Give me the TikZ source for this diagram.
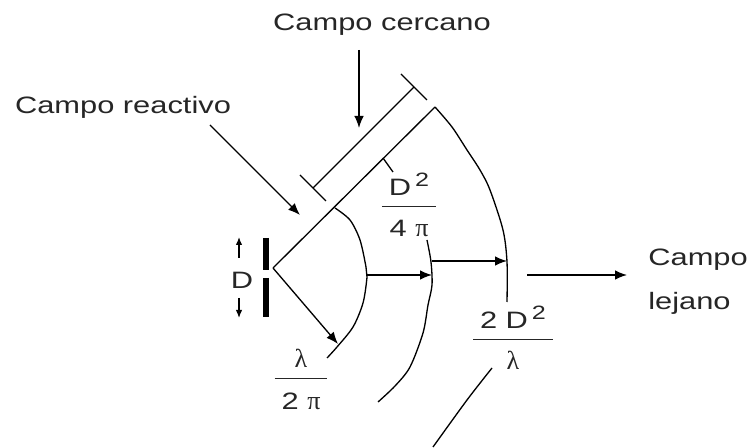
\documentclass[tikz,border=0pt]{standalone}
\usepackage{fontspec}
\setmainfont{Liberation Sans}[FakeStretch=1.3]
\newfontfamily\greek{Liberation Serif}[Scale=1.1]
\usetikzlibrary{arrows.meta}
\setlength{\arrayrulewidth}{0.8pt}
\newcommand{\sqr}{\,\raisebox{0.75ex}{\fontsize{11}{11}\selectfont 2}}
\newcommand{\ratio}[2]{\begin{tabular}{@{\hspace{4pt}}c@{\hspace{4pt}}}#1\\[1pt]\hline\rule{0pt}{17pt}#2\end{tabular}}

\begin{document}
\begin{tikzpicture}[
  x=0.02cm, y=-0.02cm,
  ln/.style={line width=0.75pt},
  bar/.style={line width=3.4pt},
  arr/.style={-{Latex[length=2.4mm, width=1.9mm]}, line width=0.75pt},
  sarr/.style={-{Latex[length=1.6mm, width=1.3mm]}, line width=0.75pt},
  lbl/.style={font=\fontsize{13.5}{16}\selectfont, text=black!85, inner sep=0pt},
  every node/.style={align=center}
]
  \useasboundingbox (0,0) rectangle (750,448);

  % Labels
  \node[lbl] (reactivo) at (123,107) {Campo reactivo};
  \node[lbl] (cercano) at (382,25) {Campo cercano};
  \node[lbl, align=left, anchor=west, font=\fontsize{13.5}{25}\selectfont] (lejano) at (648,282) {Campo\\lejano};
  \node[lbl] (dlab) at (242,280) {D};

  % Fractions
  \node[lbl] (r1) at (301,383) {\ratio{{\greek λ}}{2 {\greek π}}};
  \node[lbl] (r2) at (409,209) {\ratio{D\sqr}{4 {\greek π}}};
  \node[lbl] (r3) at (513,342) {\ratio{2 D\sqr}{{\greek λ}}};

  % Dipole
  \coordinate (bu1) at (266,238);
  \coordinate (bu2) at (266,270);
  \coordinate (bl1) at (266,278);
  \coordinate (bl2) at (266,317);
  \draw[bar] (bu1) -- (bu2);
  \draw[bar] (bl1) -- (bl2);

  \coordinate (du1) at (239,258);
  \coordinate (du2) at (239,237);
  \coordinate (dd1) at (239,298);
  \coordinate (dd2) at (239,318);
  \draw[sarr] (du1) -- (du2);
  \draw[sarr] (dd1) -- (dd2);

  % Rays
  \coordinate (vtx) at (273,268);
  \coordinate (otop) at (435,107);
  \coordinate (rtip) at (338,344);
  \draw[ln] (vtx) -- (otop);
  \draw[arr] (vtx) -- (rtip);

  % Boundaries
  \draw[ln] plot[smooth] coordinates {(335,208) (350,220) (360,240) (366,267) (367,277) (363,303) (353,327) (337,347) (327,358)};
  \draw[ln] plot[smooth] coordinates {(427,240) (431,262) (432,285) (428,305) (423,333) (410,367) (395,386) (378,402)};
  \draw[ln] plot[smooth] coordinates {(435,107) (452,127) (467,150) (480,170) (490,190) (503,230) (507,262) (507,302)};
  \draw[ln] plot[smooth] coordinates {(492,368) (467,400) (433,447)};

  % Steps outward
  \coordinate (a1s) at (367,275);
  \coordinate (a1e) at (432,275);
  \coordinate (a2s) at (432,261);
  \coordinate (a2e) at (507,261);
  \coordinate (fs) at (527,275);
  \coordinate (fe) at (627,275);
  \draw[arr] (a1s) -- (a1e);
  \draw[arr] (a2s) -- (a2e);
  \draw[arr] (fs) -- (fe);

  % Near field extent
  \coordinate (dm1) at (313,188);
  \coordinate (dm2) at (414,87);
  \draw[ln] (dm1) -- (dm2);
  \draw[ln] (dm1) ++(-13,-13) -- ++(26,26);
  \draw[ln] (dm2) ++(-13,-13) -- ++(26,26);

  \coordinate (ld1) at (383,158);
  \coordinate (ld2) at (393,172);
  \draw[ln] (ld1) -- (ld2);

  % Pointers
  \coordinate (cc1) at (359,50);
  \coordinate (cc2) at (359,128);
  \draw[arr] (cc1) -- (cc2);
  \coordinate (rc1) at (210,125);
  \coordinate (rc2) at (300,215);
  \draw[arr] (rc1) -- (rc2);

\end{tikzpicture}
\end{document}
